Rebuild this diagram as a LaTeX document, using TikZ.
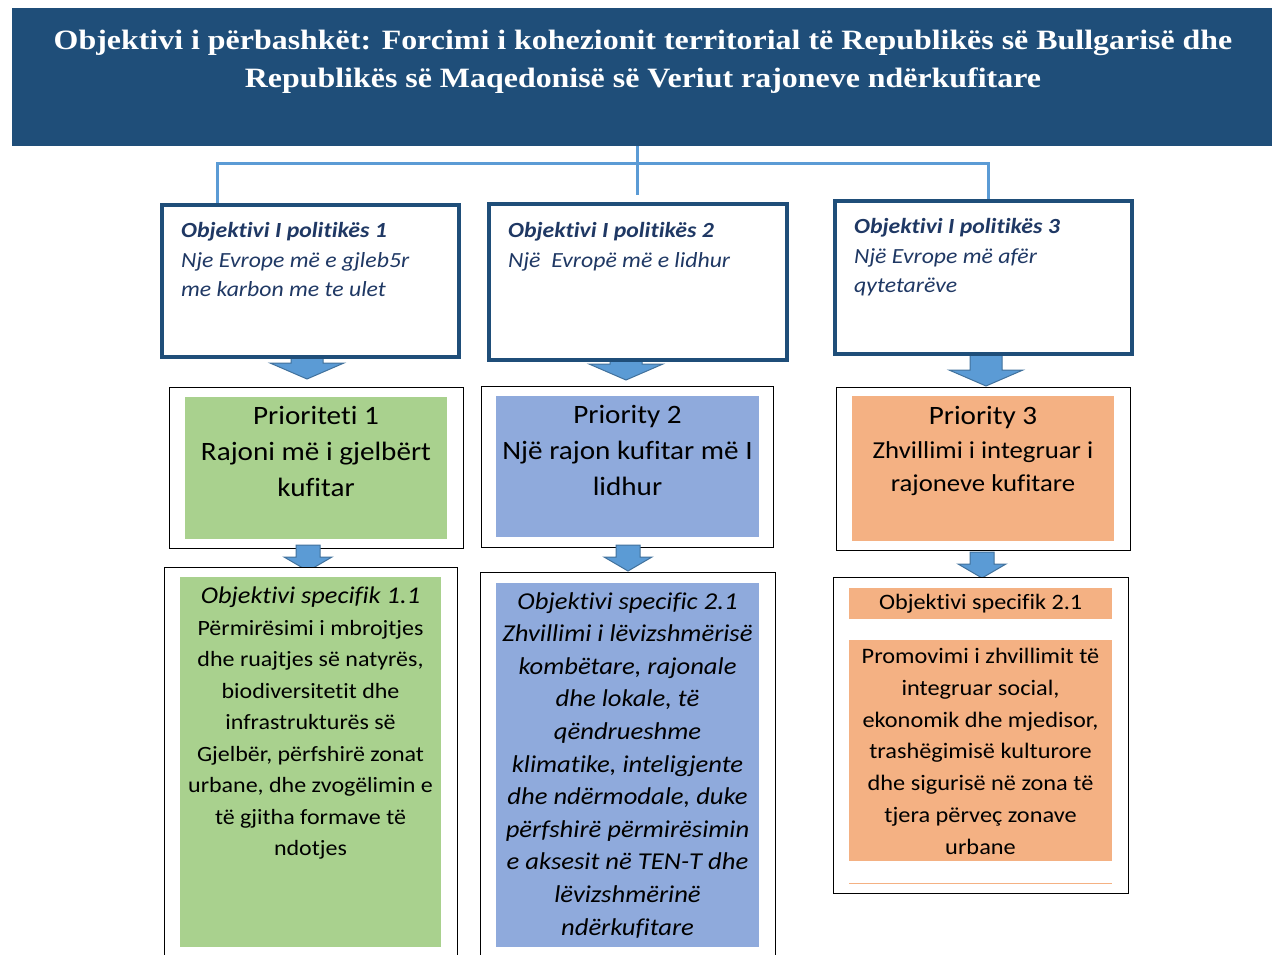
\documentclass[tikz,border=0pt]{standalone}
\usepackage{fontspec}
\setmainfont[FakeStretch=1.1, Ligatures=NoCommon]{Carlito}
\newfontfamily\titlefont[FakeStretch=1.14]{Liberation Serif}
\usetikzlibrary{positioning, calc}

\definecolor{titleblue}{HTML}{1F4E79}
\definecolor{linkblue}{HTML}{5B9BD5}
\definecolor{arrowedge}{HTML}{41719C}
\definecolor{navytext}{HTML}{1F3864}
\definecolor{prigreen}{HTML}{A9D18E}
\definecolor{priblue}{HTML}{8FAADC}
\definecolor{priorange}{HTML}{F4B183}

\tikzset{
  titlebox/.style={fill=titleblue, anchor=north west, inner sep=0pt},
  titletext/.style={anchor=north, align=center, inner sep=0pt, text=white,
    font=\titlefont\bfseries\fontsize{28}{38}\selectfont},
  polbox/.style={draw=titleblue, fill=white, line width=3.5pt, anchor=north west, inner sep=0pt},
  poltext/.style={anchor=north west, align=left, inner sep=0pt, text=navytext,
    font=\itshape\fontsize{21.6}{29.5}\selectfont},
  outerbox/.style={draw=black, fill=white, line width=1pt, anchor=north west, inner sep=0pt},
  fillbox/.style={anchor=north west, inner sep=0pt},
  pritext/.style={anchor=north, align=center, inner sep=0pt,
    font=\fontsize{26.5}{36}\selectfont},
  spectext/.style={anchor=north, align=center, inner sep=0pt},
  link/.style={draw=linkblue, line width=3pt},
  arrowfill/.style={fill=linkblue, draw=arrowedge, line width=1pt, line join=miter},
  bigarr/.pic={\draw[arrowfill] (-16,0) -- (16,0) -- (16,15) -- (37,15) -- (0,31)
     -- (-37,15) -- (-16,15) -- cycle;},
  smallarr/.pic={\draw[arrowfill] (-12,0) -- (12,0) -- (12,12) -- (24,12) -- (0,26)
     -- (-24,12) -- (-12,12) -- cycle;}
}

\begin{document}
\begin{tikzpicture}[x=1pt, y=-1pt]
\useasboundingbox (0,0) rectangle (1272,955);

% common objective
\node[titlebox, minimum width=1260pt, minimum height=138pt] (title) at (12,8) {};
\node[titletext] (titletxt) at (643,30)
  {Objektivi i përbashkët: Forcimi i kohezionit territorial të Republikës së Bullgarisë dhe\\
   Republikës së Maqedonisë së Veriut rajoneve ndërkufitare};

% first arrows sit under the policy boxes
\pic at (307,348) {bigarr};
\pic at (626,349) {bigarr};
\pic at (986,355) {bigarr};

% policy objectives
\node[polbox, minimum width=297pt, minimum height=152pt] (pol1) at (160,203) {};
\node[polbox, minimum width=298pt, minimum height=156pt] (pol2) at (487,202) {};
\node[polbox, minimum width=297pt, minimum height=153pt] (pol3) at (833,199) {};

\node[poltext] (pol1txt) at (181,222.5)
  {\textbf{Objektivi I politikës 1}\\Nje Evrope më e gjleb5r\\me karbon me te ulet};
\node[poltext] (pol2txt) at (508,222.5)
  {\textbf{Objektivi I politikës 2}\\Një\ \ Evropë më e lidhur};
\node[poltext] (pol3txt) at (854,218.5)
  {\textbf{Objektivi I politikës 3}\\Një Evrope më afër\\qytetarëve};

% links from the title
\draw[link] (pol2.north |- title.south) -- ([yshift=7pt]pol2.north);
\draw[link] ([xshift=57pt]pol1.north west) -- ++(0,-39) -| ([xshift=155pt]pol3.north west);

% priorities
\node[outerbox, minimum width=294pt, minimum height=161pt] (pri1box) at (169,387) {};
\node[fillbox, fill=prigreen, minimum width=262pt, minimum height=142pt] (pri1) at (185,397) {};
\node[pritext] (pri1txt) at (316,406.5) {Prioriteti 1\\Rajoni më i gjelbërt\\kufitar};

\node[outerbox, minimum width=292pt, minimum height=161pt] (pri2box) at (481,386) {};
\node[fillbox, fill=priblue, minimum width=263pt, minimum height=141pt] (pri2) at (496,396) {};
\node[pritext] (pri2txt) at (627.5,405.5) {Priority 2\\Një rajon kufitar më I\\lidhur};

\node[outerbox, minimum width=294pt, minimum height=163pt] (pri3box) at (836,387) {};
\node[fillbox, fill=priorange, minimum width=262pt, minimum height=145pt] (pri3) at (852,396) {};
\node[pritext] (pri3txt) at (983,406.5)
  {Priority 3\\[-2pt]\fontsize{24.3}{33}\selectfont Zhvillimi i integruar i\\[-3pt]
   \fontsize{24.3}{33}\selectfont rajoneve kufitare};

% second arrows
\pic at (308,545) {smallarr};
\pic at (628,545) {smallarr};
\pic at (982,552) {smallarr};

% specific objectives
\node[outerbox, minimum width=293pt, minimum height=400pt] (spec1box) at (164,567) {};
\node[fillbox, fill=prigreen, minimum width=261pt, minimum height=370pt] (spec1) at (180,577) {};
\node[spectext, font=\fontsize{21.8}{31.5}\selectfont] (spec1txt) at (310.5,587)
  {\textit{\fontsize{24}{31.5}\selectfont Objektivi specifik 1.1}\\Përmirësimi i mbrojtjes\\
   dhe ruajtjes së natyrës,\\biodiversitetit dhe\\infrastrukturës së\\
   Gjelbër, përfshirë zonat\\urbane, dhe zvogëlimin e\\të gjitha formave të\\ndotjes};

\node[outerbox, minimum width=295pt, minimum height=400pt] (spec2box) at (480,572) {};
\node[fillbox, fill=priblue, minimum width=263pt, minimum height=364pt] (spec2) at (496,583) {};
\node[spectext, font=\itshape\fontsize{24.2}{32.6}\selectfont] (spec2txt) at (627.5,592)
  {Objektivi specific 2.1\\Zhvillimi i lëvizshmërisë\\kombëtare, rajonale\\dhe lokale, të\\
   qëndrueshme\\klimatike, inteligjente\\dhe ndërmodale, duke\\përfshirë përmirësimin\\
   e aksesit në TEN-T dhe\\lëvizshmërinë\\ndërkufitare};

\node[outerbox, minimum width=295pt, minimum height=316pt] (spec3box) at (833,577) {};
\node[fillbox, fill=priorange, minimum width=263pt, minimum height=31pt,
  font=\fontsize{22}{25}\selectfont] (spec3head) at (849,588) {Objektivi specifik 2.1};
\node[fillbox, fill=priorange, minimum width=263pt, minimum height=221pt] (spec3) at (849,640) {};
\node[spectext, font=\fontsize{22.1}{31.8}\selectfont] (spec3txt) at (980.5,648)
  {Promovimi i zhvillimit të\\integruar social,\\ekonomik dhe mjedisor,\\
   trashëgimisë kulturore\\dhe sigurisë në zona të\\tjera përveç zonave\\urbane};
\draw[priorange, line width=1pt] (spec3.west |- 0,883) -- (spec3.east |- 0,883);
\end{tikzpicture}
\end{document}
